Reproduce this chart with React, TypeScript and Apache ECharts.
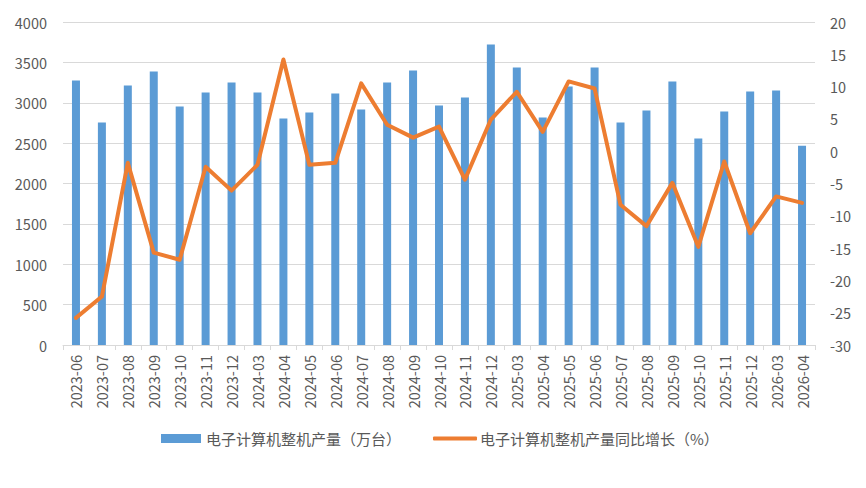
import React, { useEffect, useRef } from "react";
import * as echarts from "echarts";

const categories = [
  "2023-06", "2023-07", "2023-08", "2023-09", "2023-10", "2023-11", "2023-12",
  "2024-03", "2024-04", "2024-05", "2024-06", "2024-07", "2024-08", "2024-09", "2024-10", "2024-11", "2024-12",
  "2025-03", "2025-04", "2025-05", "2025-06", "2025-07", "2025-08", "2025-09", "2025-10", "2025-11", "2025-12",
  "2026-03", "2026-04",
];

const output = [
  3275, 2755, 3213, 3387, 2953, 3127, 3251,
  3127, 2804, 2878, 3114, 2916, 3251, 3400, 2965, 3065, 3722,
  3437, 2816, 3201, 3437, 2754, 2903, 3263, 2556, 2891, 3139,
  3151, 2469,
];

const growth = [
  -25.8, -22.5, -1.8, -15.7, -16.8, -2.4, -6.1,
  -2.1, 14.2, -2.1, -1.8, 10.5, 4.1, 2.1, 3.8, -4.4, 4.9,
  9.2, 3.0, 10.8, 9.7, -8.3, -11.6, -4.9, -14.8, -1.6, -12.7,
  -7.0, -8.0,
];

const barName = "电子计算机整机产量（万台）";
const lineName = "电子计算机整机产量同比增长（%）";

const FONT = "'Noto Sans CJK SC', 'Noto Sans', sans-serif";

export default function App() {
  const ref = useRef<HTMLDivElement>(null);
  useEffect(() => {
    if (!ref.current) return;
    const chart = echarts.init(ref.current, undefined, { renderer: "svg" });
    const legendText = { color: "#595959", fontSize: 15, fontFamily: FONT };
    chart.setOption({
      animation: false,
      textStyle: { fontFamily: FONT },
      grid: { left: 63, right: 51, top: 22, bottom: 143, containLabel: false },
      legend: [
        {
          left: 161,
          top: 431,
          padding: 0,
          itemWidth: 40,
          itemHeight: 9,
          itemGap: 4,
          textStyle: legendText,
          data: [{ name: barName, icon: "rect" }],
        },
        {
          left: 433,
          top: 431,
          padding: 0,
          itemWidth: 44,
          itemHeight: 4,
          textStyle: { ...legendText, padding: [0, 0, 0, -2] },
          data: [{ name: lineName, icon: "roundRect" }],
          itemStyle: { color: "#ED7D31" },
        },
      ],
      xAxis: {
        type: "category",
        data: categories,
        boundaryGap: true,
        axisLine: { lineStyle: { color: "#D9D9D9", width: 1 } },
        axisTick: { show: true, alignWithLabel: false, length: 5, lineStyle: { color: "#D9D9D9" } },
        axisLabel: { rotate: 90, color: "#595959", fontSize: 14.5, margin: 10, interval: 0, fontFamily: FONT },
      },
      yAxis: [
        {
          type: "value",
          min: 0,
          max: 4000,
          interval: 500,
          axisLine: { show: false },
          axisTick: { show: false },
          axisLabel: { color: "#595959", fontSize: 14.5, margin: 16, fontFamily: FONT, formatter: (v: number) => String(v) },
          splitLine: { lineStyle: { color: "#D9D9D9", width: 1 } },
        },
        {
          type: "value",
          min: -30,
          max: 20,
          interval: 5,
          axisLine: { show: false },
          axisTick: { show: false },
          axisLabel: { color: "#595959", fontSize: 14.5, margin: 15, fontFamily: FONT, formatter: (v: number) => String(v) },
          splitLine: { show: false },
        },
      ],
      series: [
        {
          name: barName,
          type: "bar",
          data: output,
          barWidth: 8,
          itemStyle: { color: "#5B9BD5" },
          yAxisIndex: 0,
        },
        {
          name: lineName,
          type: "line",
          data: growth,
          yAxisIndex: 1,
          symbol: "none",
          showSymbol: false,
          lineStyle: { color: "#ED7D31", width: 4, cap: "round", join: "round" },
          itemStyle: { color: "#ED7D31" },
        },
      ],
    });
    return () => chart.dispose();
  }, []);
  return <div ref={ref} style={{ position: "absolute", left: 0, top: 0, width: 866, height: 488 }} />;
}
